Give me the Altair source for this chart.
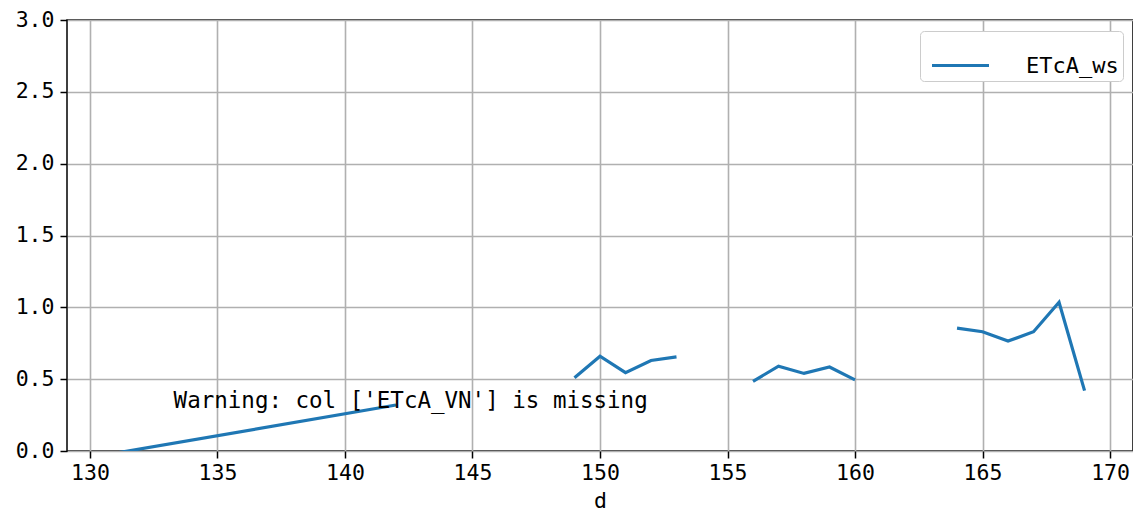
import altair as alt
import pandas as pd

days = [131, 142, 143, 149, 150, 151, 152, 153, 154, 156, 157, 158, 159, 160, 161,
        164, 165, 166, 167, 168, 169]
etca_ws = [-0.015, 0.32, None, 0.51, 0.66, 0.545, 0.63, 0.655, None, 0.485, 0.59, 0.54,
           0.585, 0.495, None, 0.855, 0.83, 0.765, 0.83, 1.035, 0.42]
series_name = "ETcA_ws"
warning_text = "Warning: col ['ETcA_VN'] is missing"
x_ticks = [130, 135, 140, 145, 150, 155, 160, 165, 170]
y_ticks = [0.0, 0.5, 1.0, 1.5, 2.0, 2.5, 3.0]

rows = []
seg = 0
for d, v in zip(days, etca_ws):
    if v is None:
        seg += 1
        continue
    rows.append({"d": d, "value": v, "seg": seg, "series": series_name})
df = pd.DataFrame(rows)

FONT = "DejaVu Sans Mono"
W, H = 1066, 431

xscale = alt.Scale(domain=[129.1, 170.9], nice=False, zero=False)
yscale = alt.Scale(domain=[0, 3], nice=False, zero=False)

line = alt.Chart(df).mark_line(strokeWidth=3.2, clip=True).encode(
    x=alt.X("d:Q", scale=xscale, title="d",
            axis=alt.Axis(values=x_ticks, format="d")),
    y=alt.Y("value:Q", scale=yscale, title=None,
            axis=alt.Axis(values=y_ticks, format=".1f")),
    detail="seg:N",
    color=alt.Color("series:N", scale=alt.Scale(range=["#1f77b4"]),
                    legend=alt.Legend(
                        title=None, orient="none", legendX=853, legendY=11,
                        symbolType="stroke", symbolSize=3249, symbolStrokeWidth=3.2,
                        symbolOffset=6,
                        labelFont=FONT, labelFontSize=22, labelColor="black",
                        labelOffset=35, padding=4,
                        strokeColor="#cccccc", fillColor="white",
                        cornerRadius=4)),
)

txt = alt.Chart(pd.DataFrame({"x": [133.28], "y": [0.3], "t": [warning_text]})).mark_text(
    align="left", baseline="alphabetic", font=FONT, fontSize=22.5, color="black"
).encode(x=alt.X("x:Q", scale=xscale), y=alt.Y("y:Q", scale=yscale), text="t:N")

chart = alt.layer(line, txt).properties(
    width=W, height=H,
    autosize=alt.AutoSizeParams(type="none"),
    padding={"left": 59, "top": 12, "right": 0, "bottom": 61},
).configure_view(
    stroke="black", strokeWidth=1.5
).configure_axis(
    domain=False, grid=True, gridColor="#b0b0b0", gridWidth=1.6,
    tickColor="black", tickSize=7, tickWidth=1.5,
    labelFont=FONT, labelFontSize=21.5, labelColor="black", labelPadding=4,
    titleFont=FONT, titleFontSize=21.5, titleColor="black", titleFontWeight="normal",
    titlePadding=7,
).configure_axisY(labelPadding=6)

chart.save("out.html", embed_options={"renderer": "svg", "actions": False})
